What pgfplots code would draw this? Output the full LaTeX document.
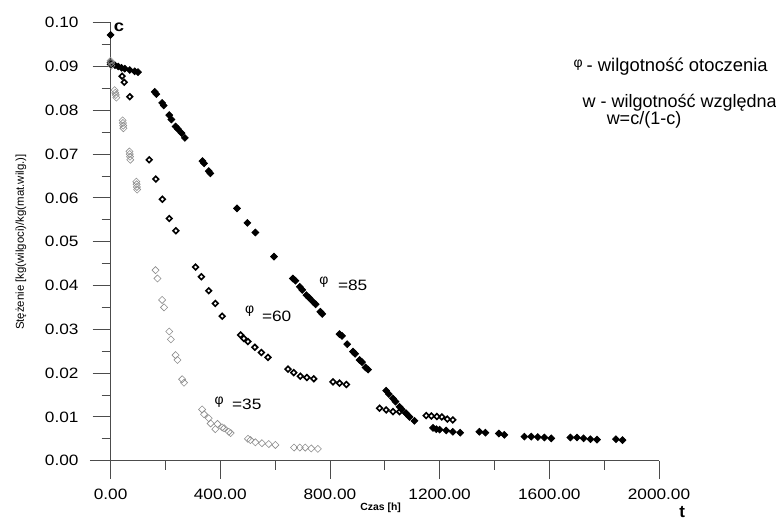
\documentclass[border=0pt]{standalone}
\usepackage{pgfplots}
\pgfplotsset{compat=1.18}
\usepackage{fontspec}
\setmainfont{Liberation Sans}
\newfontfamily\widefont[FakeStretch=1.15]{Liberation Sans}
\begin{document}
\begin{tikzpicture}
\useasboundingbox (-45pt,-28.65pt) rectangle (343pt,230.35pt);
\begin{axis}[
  at={(0,0)}, anchor=south west,
  scale only axis, width=284.5pt, height=219pt,
  xmin=-75, xmax=2000, ymin=0, ymax=0.1,
  axis x line=bottom, axis y line=middle,
  axis line style={-, black!70, line width=0.4pt},
  hide obscured x ticks=false, hide obscured y ticks=false,
  tick align=outside,
  major tick length=9pt, minor tick length=4.5pt,
  tick style={black!70, line width=0.4pt},
  xtick={0,400,800,1200,1600,2000},
  ytick={0,0.01,0.02,0.03,0.04,0.05,0.06,0.07,0.08,0.09,0.1},
  minor x tick num=1, minor y tick num=1,
  /pgf/number format/assume math mode=true,
  xticklabel style={yshift=-1.5pt, /pgf/number format/.cd, fixed, fixed zerofill, precision=2, 1000 sep={}},
  yticklabel style={xshift=-3.5pt, /pgf/number format/.cd, fixed, fixed zerofill, precision=2},
  tick label style={font=\widefont\fontsize{7.5}{8}\selectfont},
  clip=false,
]
% phi = 85 (filled)
\addplot[only marks, mark=square*, mark size=1.2pt, mark options={rotate=45, fill=black, draw=black}] coordinates {
(0,0.0972)
(0,0.0909)(4,0.0906)(16,0.0903)(28,0.0900)(40,0.0897)(52,0.0895)(70,0.0892)(88,0.0889)(100,0.0887)
(161,0.0842)(167,0.0837)(188,0.0817)(194,0.0811)(214,0.0789)(222,0.0779)(237,0.0763)(246,0.0757)(259,0.0748)(271,0.0737)
(335,0.0684)(341,0.0679)(358,0.0661)(364,0.0656)
(461,0.0576)(499,0.0543)(528,0.0521)(596,0.0466)
(665,0.0416)(674,0.0411)(690,0.0397)(699,0.0390)(714,0.0378)(724,0.0372)(738,0.0363)(748,0.0357)(765,0.0340)(772,0.0335)
(835,0.0289)(844,0.0285)(863,0.0266)(884,0.0249)(892,0.0244)(908,0.0230)(917,0.0225)(930,0.0213)(939,0.0208)
(1005,0.0160)(1015,0.0152)(1030,0.0142)(1039,0.0135)(1054,0.0123)(1062,0.0117)(1078,0.0108)(1090,0.0100)(1108,0.0091)
(1176,0.0075)(1188,0.0072)(1200,0.0071)(1224,0.0069)(1248,0.0066)(1275,0.0064)
(1345,0.0066)(1367,0.0064)(1416,0.0062)(1436,0.0059)
(1509,0.0055)(1534,0.0055)(1558,0.0054)(1582,0.0053)(1607,0.0051)
(1677,0.0053)(1701,0.0053)(1725,0.0051)(1750,0.0049)(1774,0.0048)
(1843,0.0049)(1867,0.0047)
};
% phi = 60 (bold open)
\addplot[only marks, mark=square, mark size=1.0pt, mark options={rotate=45, draw=black, line width=0.8pt, fill=white}] coordinates {
(0,0.0905)(42,0.0878)(50,0.0864)(70,0.0831)
(141,0.0687)(165,0.0643)(189,0.0597)(214,0.0553)(238,0.0525)
(310,0.0442)(331,0.0420)(358,0.0388)(382,0.0359)(407,0.0330)
(474,0.0287)(486,0.0279)(501,0.0272)(526,0.0259)(550,0.0247)(574,0.0236)
(647,0.0209)(668,0.0201)(692,0.0193)(716,0.0190)(741,0.0187)
(811,0.0180)(835,0.0177)(860,0.0174)
(981,0.0120)(1005,0.0116)(1030,0.0112)(1054,0.0112)(1078,0.0108)
(1151,0.0103)(1170,0.0102)(1190,0.0101)(1208,0.0100)(1228,0.0095)(1248,0.0093)
};
% phi = 35 (light open)
\addplot[only marks, mark=square, mark size=1.25pt, mark options={rotate=45, draw=black!45, line width=0.3pt}] coordinates {
(0,0.0913)(2,0.0908)(3,0.0902)
(15,0.0846)(17,0.0840)(19,0.0835)(21,0.0829)
(44,0.0777)(45,0.0771)(46,0.0765)(47,0.0759)
(69,0.0706)(70,0.0700)(71,0.0694)(72,0.0687)
(94,0.0637)(95,0.0631)(96,0.0625)(97,0.0619)
(164,0.0435)(171,0.0416)(188,0.0367)(195,0.0350)(214,0.0295)(220,0.0277)(237,0.0241)(244,0.0230)(261,0.0186)(268,0.0178)
(334,0.0117)(341,0.0106)(358,0.0097)(365,0.0085)(382,0.0072)(390,0.0084)(407,0.0076)(414,0.0074)(431,0.0066)(438,0.0063)
(501,0.0050)(510,0.0047)(528,0.0042)(552,0.0040)(577,0.0038)(601,0.0036)
(669,0.0030)(690,0.0030)(710,0.0030)(732,0.0028)(756,0.0027)
};
% labels
\node[font=\widefont\bfseries\fontsize{8}{9}\selectfont, inner sep=0pt] at (axis cs:31,0.0990) {c};
\node[font=\bfseries\fontsize{5.2}{6}\selectfont, inner sep=0pt] at (axis cs:985,-0.01085) {Czas [h]};
\node[font=\bfseries\fontsize{8.5}{9}\selectfont, inner sep=0pt] at (axis cs:2085,-0.0117) {t};
\node[font=\fontsize{5.7}{6}\selectfont, rotate=90, inner sep=0pt] at (axis cs:-327,0.0499) {Stężenie [kg(wilgoci)/kg(mat.wilg.)]};
% annotations
\node[font=\fontsize{7}{8}\selectfont, inner sep=0pt] at (axis cs:1705,0.0902) {φ};
\node[font=\fontsize{9.2}{10}\selectfont, anchor=west, inner sep=0pt] at (axis cs:1735,0.0900) {- wilgotność otoczenia};
\node[font=\fontsize{9}{10}\selectfont, anchor=west, inner sep=0pt] at (axis cs:1720,0.0817) {w - wilgotność względna};
\node[font=\fontsize{9}{10}\selectfont, anchor=west, inner sep=0pt] at (axis cs:1808,0.0778) {w=c/(1-c)};
% curve labels
\node[font=\fontsize{7}{8}\selectfont, inner sep=0pt] at (axis cs:778,0.0408) {φ};
\node[font=\widefont\fontsize{7.5}{8}\selectfont, anchor=west, inner sep=0pt] at (axis cs:828,0.0401) {=85};
\node[font=\fontsize{7}{8}\selectfont, inner sep=0pt] at (axis cs:507,0.0341) {φ};
\node[font=\widefont\fontsize{7.5}{8}\selectfont, anchor=west, inner sep=0pt] at (axis cs:551,0.0330) {=60};
\node[font=\fontsize{7}{8}\selectfont, inner sep=0pt] at (axis cs:396,0.0134) {φ};
\node[font=\widefont\fontsize{7.5}{8}\selectfont, anchor=west, inner sep=0pt] at (axis cs:442,0.0129) {=35};
\end{axis}
\end{tikzpicture}
\end{document}
